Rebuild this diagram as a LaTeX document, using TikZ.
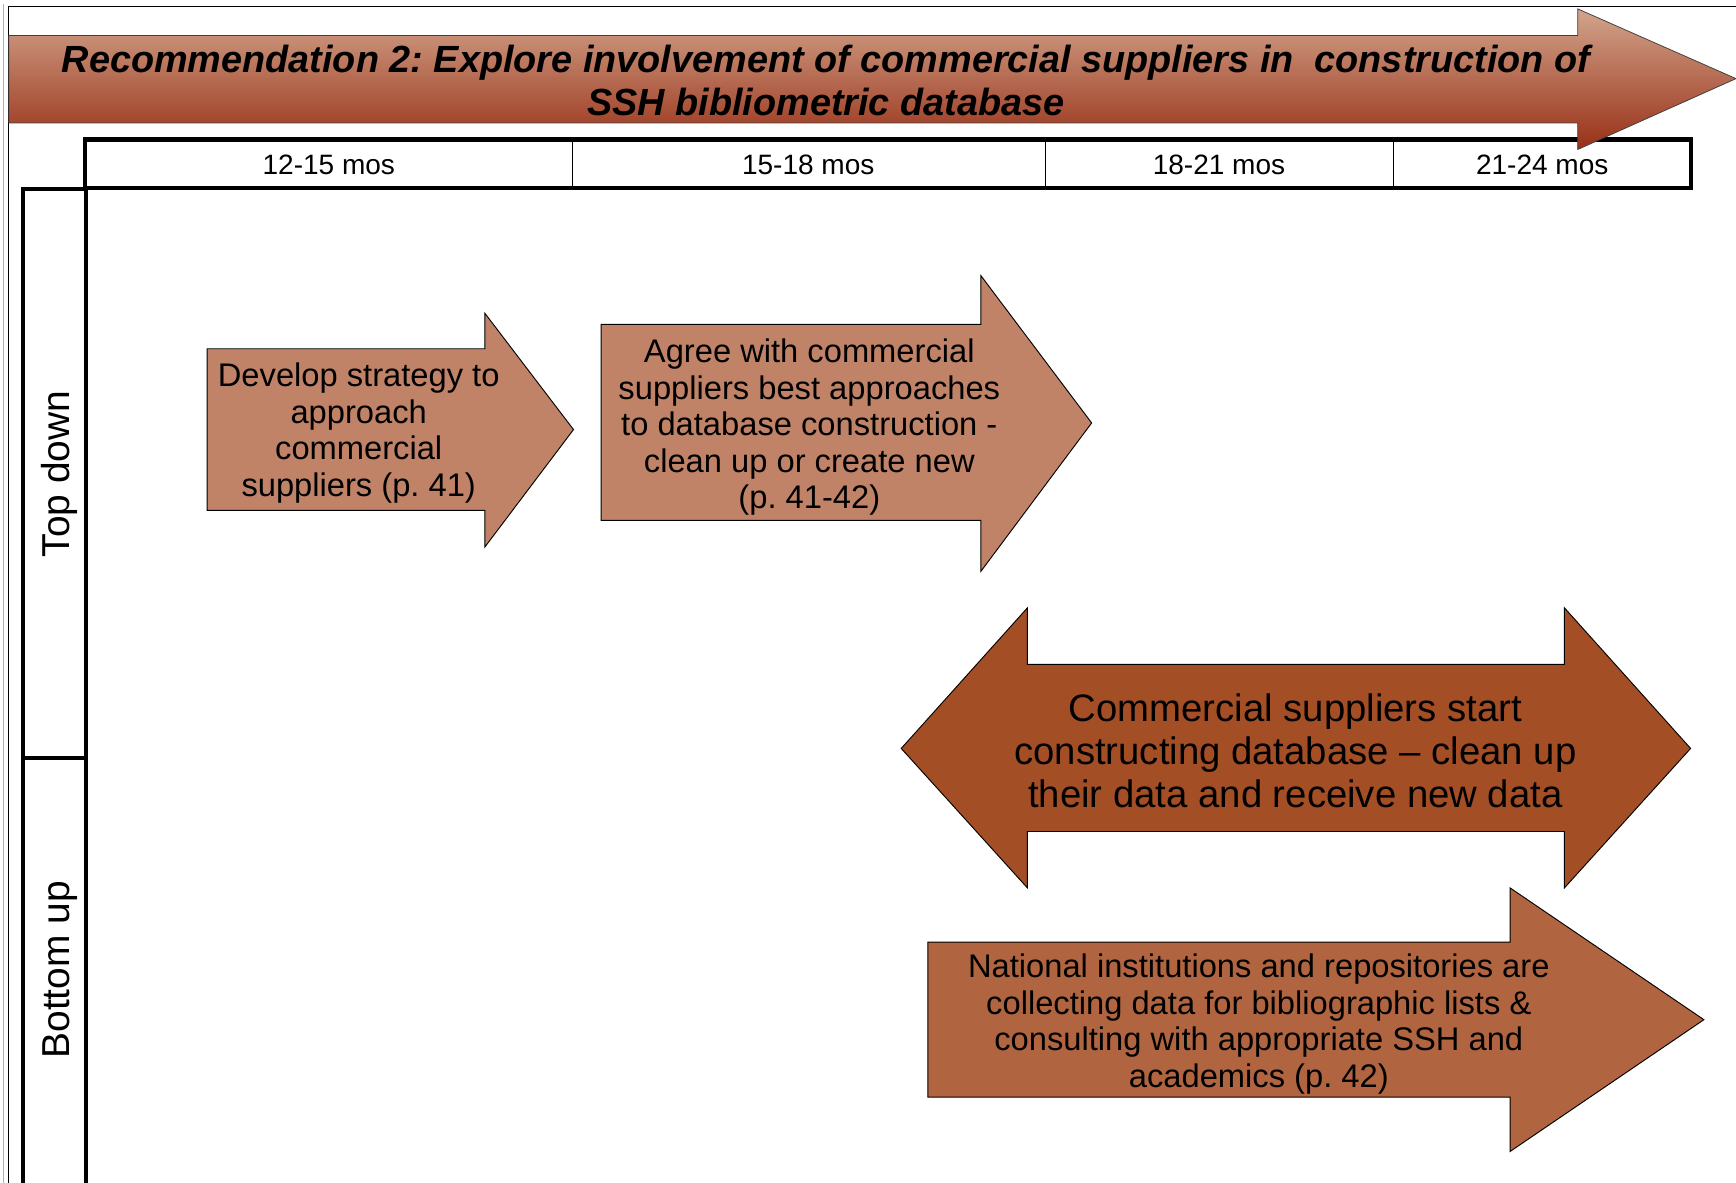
\documentclass[tikz,border=0pt]{standalone}
\usepackage{fontspec}
\setmainfont{Liberation Sans}
\usepackage{tikz}
\frenchspacing
\definecolor{stepA}{RGB}{192,131,104}
\definecolor{stepB}{RGB}{163,78,37}
\definecolor{stepC}{RGB}{176,101,64}
\definecolor{bannertop}{RGB}{210,165,140}
\definecolor{bannerbot}{RGB}{152,48,23}
\tikzstyle{phase}=[draw=black,line width=0.6pt,line join=miter]
\tikzstyle{phasetext}=[align=center,inner sep=0pt,font=\fontsize{21}{23.5}\selectfont]
\tikzstyle{frame}=[draw=black,line width=2.6pt]
\tikzstyle{month}=[inner sep=0pt,font=\fontsize{18}{20}\selectfont]
\tikzstyle{lane}=[rotate=90,inner sep=0pt,font=\fontsize{25}{28}\selectfont]

\begin{document}
\begin{tikzpicture}[x=0.025cm,y=-0.025cm]
\useasboundingbox (0,0) rectangle (1568,1068);
% outer frame
\draw[gray!60,line width=0.4pt] (3,1070) -- (3,4);
\draw[line width=0.6pt] (8,1070) -- (8,6) -- (1570,6);

% months
\draw[frame] (77,126) rectangle (1527,170);
\foreach \x in {517,944,1259}
	\draw[line width=0.7pt] (\x,126) -- (\x,170);
\node[month] (m1) at (297,149) {12-15 mos};
\node[month] (m2) at (730,149) {15-18 mos};
\node[month] (m3) at (1101,149) {18-21 mos};
\node[month] (m4) at (1393,149) {21-24 mos};

% lanes
\draw[frame] (21,1080) -- (21,171) -- (78,171) -- (78,1080);
\draw[frame] (21,685) -- (78,685);
\node[lane] (topdown) at (54,428) {Top down};
\node[lane] (bottomup) at (54,876) {Bottom up};

% banner
\shade[top color=bannertop,bottom color=bannerbot,draw=black!75,line width=0.5pt]
	(8,32) -- (1425,32) -- (1425,8) -- (1568,71) -- (1425,135) -- (1425,111) -- (8,111) -- cycle;
\node[align=center,inner sep=0pt,font=\bfseries\itshape\fontsize{24.3}{27.7}\selectfont] (title) at (746,73)
	{Recommendation 2: Explore involvement of commercial suppliers in \ construction of\\SSH bibliometric database};

% top down
\filldraw[phase,fill=stepA] (187,315) -- (438,315) -- (438,283) -- (518,388) -- (438,494) -- (438,461) -- (187,461) -- cycle;
\node[phasetext] (develop) at (324,391) {Develop strategy to\\approach\\commercial\\suppliers (p. 41)};

\filldraw[phase,fill=stepA] (543,293) -- (886,293) -- (886,249) -- (986,382) -- (886,516) -- (886,470) -- (543,470) -- cycle;
\node[phasetext] (agree) at (731,386) {Agree with commercial\\suppliers best approaches\\to database construction -\\clean up or create new\\(p. 41-42)};

\filldraw[phase,fill=stepB] (814,676) -- (928,549) -- (928,600) -- (1413,600) -- (1413,549) -- (1527,676)
	-- (1413,802) -- (1413,751) -- (928,751) -- (928,802) -- cycle;
\node[phasetext,font=\fontsize{24.6}{27.5}\selectfont] (construct) at (1170,678)
	{Commercial suppliers start\\constructing database -- clean up\\their data and receive new data};

% bottom up
\filldraw[phase,fill=stepC] (838,851) -- (1364,851) -- (1364,802) -- (1539,921) -- (1364,1040) -- (1364,991) -- (838,991) -- cycle;
\node[phasetext] (collect) at (1137,925) {National institutions and repositories are\\collecting data for bibliographic lists \&\\consulting with appropriate SSH and\\academics (p. 42)};
\end{tikzpicture}
\end{document}
